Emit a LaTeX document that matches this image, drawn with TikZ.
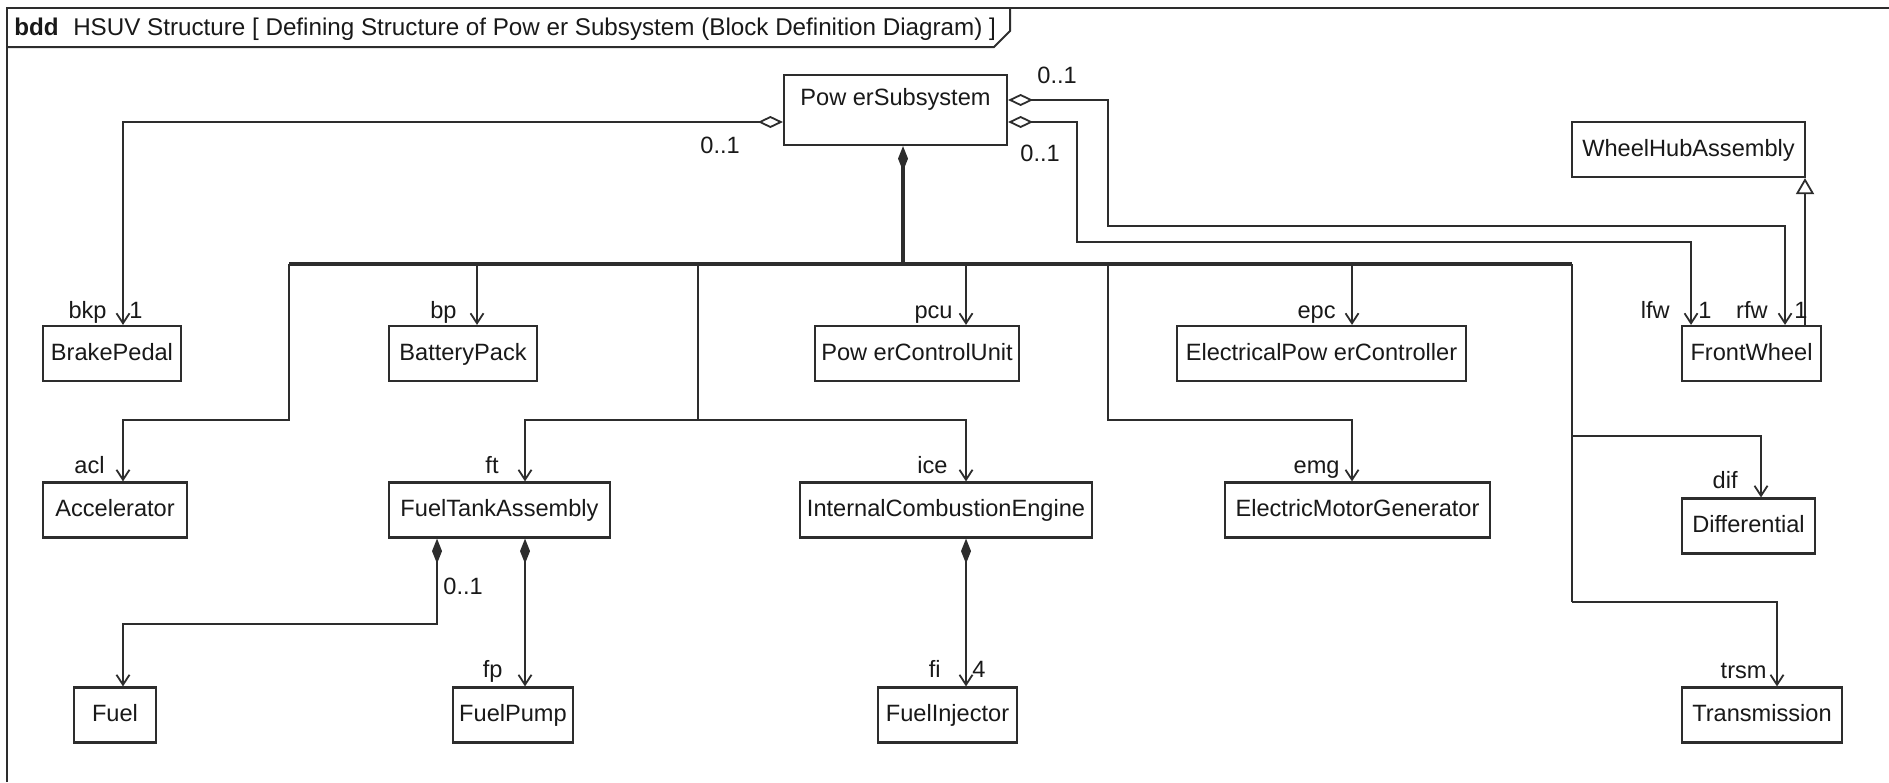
\documentclass[tikz,border=0pt]{standalone}
\usepackage{fontspec}
\setmainfont{Liberation Sans}
\usetikzlibrary{arrows.meta}
\definecolor{ln}{RGB}{45,45,45}
\definecolor{tx}{RGB}{25,25,25}
\tikzset{
  every node/.style={font=\fontsize{11.8pt}{14pt}\selectfont, text=tx},
  blk/.style={draw=ln, line width=1.1pt, fill=white, minimum height=27.5pt, inner sep=2pt, text height=9pt, text depth=2.5pt},
  lbl/.style={inner sep=0pt},
  conn/.style={draw=ln, line width=0.9pt},
  trunk/.style={draw=ln, line width=1.8pt},
  asso/.style={conn, -{Straight Barb[length=5pt,width=6.5pt,line width=0.9pt]}},
  agg/.style={conn, {Diamond[open,length=12.5pt,width=6pt,line width=0.9pt]}-{Straight Barb[length=5pt,width=6.5pt,line width=0.9pt]}},
  compasso/.style={conn, {Diamond[length=12.5pt,width=5pt]}-{Straight Barb[length=5pt,width=6.5pt,line width=0.9pt]}},
  comptrunk/.style={trunk, {Diamond[length=12.5pt,width=5pt]}-},
  gen/.style={conn, -{Triangle[open,length=8pt,width=9pt,line width=0.9pt]}},
  frame/.style={draw=ln, line width=1pt}
}
\begin{document}
\begin{tikzpicture}[x=0.5pt,y=-0.5pt]
\useasboundingbox (0,0) rectangle (1889,782);
% frame
\draw[frame] (7,782) -- (7,8) -- (1889,8);
\draw[frame] (7,47) -- (994,47) -- (1010,31) -- (1010,8);
\node[lbl, anchor=base west, font=\fontsize{12.1pt}{14pt}\selectfont] (hdr) at (14,35) {\textbf{bdd}\hspace{0.6em}HSUV Structure [ Defining Structure of Pow er Subsystem (Block Definition Diagram) ]};

% blocks
\node[blk, minimum width=111.5pt, minimum height=35pt, text depth=14pt] (ps) at (895.5,110) {Pow erSubsystem};
\node[blk, minimum width=69pt] (bkp) at (112,353.5) {BrakePedal};
\node[blk, minimum width=74pt] (bp) at (463,353.5) {BatteryPack};
\node[blk, minimum width=102pt] (pcu) at (917,353.5) {Pow erControlUnit};
\node[blk, minimum width=144.5pt] (epc) at (1321.5,353.5) {ElectricalPow erController};
\node[blk, minimum width=69.5pt] (fw) at (1751.5,353.5) {FrontWheel};
\node[blk, minimum width=116.5pt] (wha) at (1688.5,149.5) {WheelHubAssembly};
\node[blk, minimum width=72pt] (acl) at (115,510) {Accelerator};
\node[blk, minimum width=110.5pt] (fta) at (499.5,510) {FuelTankAssembly};
\node[blk, minimum width=146pt] (ice) at (946,510) {InternalCombustionEngine};
\node[blk, minimum width=132.5pt] (emg) at (1357.5,510) {ElectricMotorGenerator};
\node[blk, minimum width=66.5pt] (dif) at (1748.5,526) {Differential};
\node[blk, minimum width=41pt] (fuel) at (115,715) {Fuel};
\node[blk, minimum width=60pt] (fp) at (513,715) {FuelPump};
\node[blk, minimum width=69.5pt] (fi) at (947.5,715) {FuelInjector};
\node[blk, minimum width=80pt] (trsm) at (1762,715) {Transmission};

% aggregations
\draw[agg] (ps.west |- 0,122) -| (bkp.north -| 123,0);
\draw[agg] (ps.east |- 0,100) -| (1108,226) -| (fw.north -| 1785,0);
\draw[agg] (ps.east |- 0,122) -| (1077,242) -| (fw.north -| 1691,0);

% composition trunk and bus
\coordinate (hub) at (903,264);
\coordinate (busL) at (289,264);
\coordinate (busR) at (1572,264);
\draw[comptrunk] (ps.south -| hub) -- (hub);
\draw[trunk] (busL) -- (busR);
\draw[asso] (busL) -- (289,420) -| (acl.north -| 123,0);
\draw[asso] (477,264) -- (bp.north -| 477,0);
\draw[asso] (698,264) |- (525,420) -- (fta.north -| 525,0);
\draw[asso] (698,420) -| (ice.north -| 966,0);
\draw[asso] (966,264) -- (pcu.north -| 966,0);
\draw[asso] (1108,264) |- (1352,420) -- (emg.north -| 1352,0);
\draw[asso] (1352,264) -- (epc.north -| 1352,0);
\draw[conn] (busR) -- (1572,602);
\draw[asso] (1572,436) -| (dif.north -| 1761,0);
\draw[asso] (1572,602) -| (trsm.north -| 1777,0);

% generalization
\draw[gen] (fw.north -| 1805,0) -- (wha.south -| 1805,0);

% sub compositions
\draw[compasso] (fta.south -| 437,0) -- (437,624) -| (fuel.north -| 123,0);
\draw[compasso] (fta.south -| 525,0) -- (fp.north -| 525,0);
\draw[compasso] (ice.south -| 966,0) -- (fi.north -| 966,0);

% labels
\node[lbl, anchor=base west] (m1) at (700,153) {0..1};
\node[lbl, anchor=base west] (m2) at (1037,83) {0..1};
\node[lbl, anchor=base west] (m3) at (1020,161) {0..1};
\node[lbl, anchor=base east] (r1) at (107,318) {bkp};
\node[lbl, anchor=base west] (n1) at (129,318) {1};
\node[lbl, anchor=base east] (r2) at (457,318) {bp};
\node[lbl, anchor=base east] (r3) at (953,318) {pcu};
\node[lbl, anchor=base east] (r4) at (1336,318) {epc};
\node[lbl, anchor=base east] (r5) at (1670,318) {lfw};
\node[lbl, anchor=base west] (n2) at (1698,318) {1};
\node[lbl, anchor=base east] (r6) at (1768,318) {rfw};
\node[lbl, anchor=base west] (n3) at (1794,318) {1};
\node[lbl, anchor=base east] (r7) at (105,473) {acl};
\node[lbl, anchor=base east] (r8) at (499,473) {ft};
\node[lbl, anchor=base east] (r9) at (948,473) {ice};
\node[lbl, anchor=base east] (r10) at (1340,473) {emg};
\node[lbl, anchor=base east] (r11) at (1738,488) {dif};
\node[lbl, anchor=base west] (m4) at (443,594) {0..1};
\node[lbl, anchor=base east] (r12) at (503,677) {fp};
\node[lbl, anchor=base east] (r13) at (941,677) {fi};
\node[lbl, anchor=base west] (n4) at (972,677) {4};
\node[lbl, anchor=base east] (r14) at (1767,678) {trsm};
\end{tikzpicture}
\end{document}
